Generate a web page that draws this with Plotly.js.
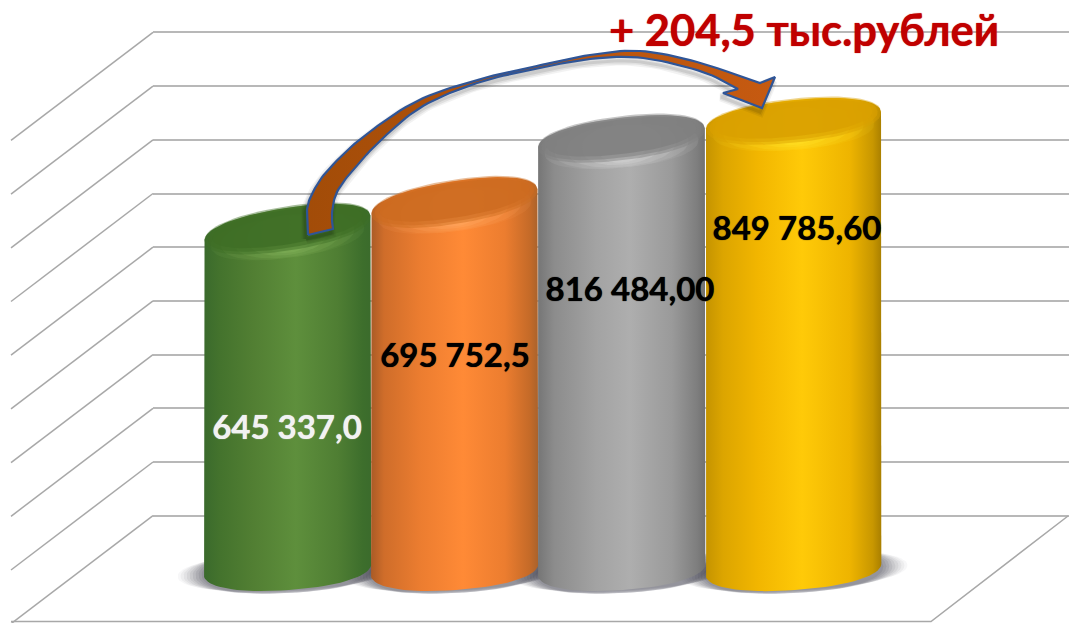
<!DOCTYPE html>
<html><head><meta charset="utf-8">
<script src="https://cdn.plot.ly/plotly-3.0.1.min.js"></script>
<style>html,body{margin:0;padding:0;background:#fff}#c{width:1069px;height:623px}</style>
</head><body><div id="c"></div>
<script>
// ---- chart data ----
const categories = [0, 1, 2, 3];
const values = [645337.0, 695752.5, 816484.0, 849785.6];
const valueLabels = ['645 337,0', '695 752,5', '816 484,00', '849 785,60'];
const labelColors = ['#f2f2f2', '#000000', '#000000', '#000000'];
const gridValues = [0, 100000, 200000, 300000, 400000, 500000, 600000, 700000, 800000, 900000];
const titleText = '+ 204,5 тыс.рублей';

// ---- styles ----
const bodyScales = [
  [[0,'#3a6a2c'],[0.1,'#44732d'],[0.3,'#527f33'],[0.55,'#5e8f3c'],[0.8,'#4f7e33'],[0.95,'#3d6e2c'],[1,'#3b6b2c']],
  [[0,'#a85a26'],[0.08,'#cf6d2a'],[0.3,'#ec7d30'],[0.55,'#ff8a36'],[0.8,'#ec7d2f'],[0.95,'#c46a28'],[1,'#a8622c']],
  [[0,'#757575'],[0.1,'#8c8c8c'],[0.35,'#a3a3a3'],[0.55,'#aeaeae'],[0.8,'#9a9a9a'],[0.95,'#7e7e7e'],[1,'#707070']],
  [[0,'#c49300'],[0.1,'#dca500'],[0.3,'#f2b600'],[0.55,'#ffca08'],[0.82,'#eeb400'],[0.95,'#c89700'],[1,'#a97f00']]
];
const capColor = ['62,110,37', '205,108,32', '128,128,128', '218,160,0'];
const rimColor = ['132,180,92', '255,170,100', '215,215,215', '255,225,40'];
const xIdx = [0, 1, 2, 3.03];
const halfW = [84, 84, 84, 88];
const capTilt = [9, 9, 7, 6];

// ---- scales (page pixels <-> axis units) ----
const W = 1069, H = 623, basePx = 569, k = 5.27e-4, x0 = 287.5, xs = 167;
const wallK = 53.7e-5, wallBase = 515.7;
const X = p => (p - x0) / xs;
const Y = p => (basePx - p) / k;
const wallPx = v => wallBase - v * wallK;

const traces = [];
const line0 = {width: 0};

// tilted super-ellipse points in pixels
const EXP = 2 / 2.2;
const spow = v => Math.sign(v) * Math.pow(Math.abs(v), EXP);
function ell(cx, cy, a, b, deg, t0, t1, n) {
  const th = deg * Math.PI / 180, out = [];
  for (let i = 0; i <= n; i++) {
    const t = (t0 + (t1 - t0) * i / n) * Math.PI / 180;
    const ex = a * spow(Math.cos(t)), ey = b * spow(Math.sin(t));
    out.push([cx + ex * Math.cos(th) - ey * Math.sin(th), cy - (ex * Math.sin(th) + ey * Math.cos(th))]);
  }
  return out;
}
function poly(pts, extra) {
  return Object.assign({
    type: 'scatter', mode: 'lines', xaxis: 'x2', yaxis: 'y2', hoverinfo: 'skip', showlegend: false,
    x: pts.map(p => X(p[0])), y: pts.map(p => Y(p[1])), line: line0
  }, extra);
}
function fillEll(cx, cy, a, b, deg, color) {
  return poly(ell(cx, cy, a, b, deg, 0, 360, 72), {fill: 'toself', fillcolor: color});
}

// perspective lines of the side wall and floor, from the same grid values
const diagX = [], diagY = [];
gridValues.forEach(v => {
  diagX.push(X(153), X(11), null);
  diagY.push(Y(wallPx(v)), Y(wallPx(v) + 108), null);
});
traces.push({type: 'scatter', mode: 'lines', xaxis: 'x2', yaxis: 'y2', hoverinfo: 'skip', showlegend: false,
  x: diagX, y: diagY, line: {color: '#a8a8a8', width: 1.5}});
traces.push(poly([[11, 621.5], [931, 621.5], [1068, 516]], {line: {color: '#a8a8a8', width: 1.5}}));

// the wall's grid needs one trace so its subplot exists
traces.push({type: 'scatter', mode: 'none', x: [0], y: [0], hoverinfo: 'skip', showlegend: false});

// value bars (covered by the shaded cylinder bodies)
traces.push({type: 'bar', xaxis: 'x2', yaxis: 'y2', x: xIdx, y: values, width: 0.8,
  marker: {color: ['#527f33', '#ec7d30', '#a3a3a3', '#f2b600']}, hoverinfo: 'skip', showlegend: false});

// floor shadows
categories.forEach(i => {
  const cx = x0 + xs * xIdx[i], a = halfW[i], b = 19;
  [[26, 0, .04], [23, 1, .05], [20, 1, .06], [17, 2, .07], [14, 2, .08], [11, 3, .09], [8, 3, .1], [5, 3, .1], [2, 3, .1]].forEach(s => {
    traces.push(fillEll(cx, basePx + 2, a + s[0], b + s[1], 3, 'rgba(50,50,65,' + s[2] + ')'));
  });
});
// cylinders
categories.forEach(i => {
  const cx = x0 + xs * xIdx[i], a = halfW[i], b = 21, tilt = capTilt[i];
  const topY = basePx - values[i] * k;
  const upper = ell(cx, topY, a, b, tilt, 0, 180, 40);
  const lower = ell(cx, basePx, a, b, 4, 180, 360, 40);
  const outline = upper.concat(lower);
  outline.push(upper[0]);
  traces.push(poly(outline, {fill: 'toself',
    fillgradient: {type: 'horizontal', colorscale: bodyScales[i], start: X(cx - a), stop: X(cx + a)}}));
  // lit front lip
  [[.92, 1.0, 9, .10], [.8, 1.0, 9, .14], [.65, 1.0, 8, .2], [.48, .95, 7, .3], [.3, .9, 6, .35]].forEach(s => {
    traces.push(fillEll(cx, topY + s[2] - 1, a * s[0], b * s[1], tilt - 1.5, 'rgba(' + rimColor[i] + ',' + s[3] + ')'));
  });
  // darker top face, soft-edged
  traces.push(fillEll(cx, topY - 0.5, a, b + 1, tilt, 'rgba(' + capColor[i] + ',.45)'));
  traces.push(fillEll(cx, topY - 1, a * .96, b * .94, tilt, 'rgba(' + capColor[i] + ',.55)'));
  traces.push(fillEll(cx, topY - 2, a * .9, b * .82, tilt, 'rgba(' + capColor[i] + ',.8)'));
});

// curved arrow
const outerPts = [[308,235],[307,210],[313,192],[328,170],[363,137],[417,101],[477,80],[530,67.5],[590,55],[640,51],[697,62],[760,83]];
const innerPts = [[738,89],[703,72],[643,58],[590,59],[530,70],[477,83],[423,106],[383,138],[353,170],[337,192],[332,213],[333,229]];
function smooth(p) {
  const out = [];
  for (let i = 0; i < p.length - 1; i++) {
    const a = p[Math.max(i - 1, 0)], b = p[i], c = p[i + 1], d = p[Math.min(i + 2, p.length - 1)];
    for (let j = 0; j < 10; j++) {
      const t = j / 10, t2 = t * t, t3 = t2 * t;
      out.push([0, 1].map(q => .5 * (2 * b[q] + (c[q] - a[q]) * t + (2 * a[q] - 5 * b[q] + 4 * c[q] - d[q]) * t2 + (3 * b[q] - a[q] - 3 * c[q] + d[q]) * t3)));
    }
  }
  out.push(p[p.length - 1]);
  return out;
}
const arrow = smooth(outerPts).concat([[775,77],[762,108],[723,93]], smooth(innerPts), [[308,235]]);
[[9, .05], [6, .07], [3, .09]].forEach(s => {
  traces.push(poly(arrow.map(p => [p[0] - 2, p[1] + 4]), {line: {color: 'rgba(0,0,0,' + s[1] + ')', width: s[0]}}));
});
traces.push(poly(arrow, {fill: 'toself',
  fillgradient: {type: 'horizontal', colorscale: [[0,'#a24c08'],[0.5,'#b5530c'],[1,'#c65a11']], start: X(305), stop: X(775)},
  line: {color: '#2f5597', width: 2.2}}));

// value labels
const labelPxX = [287, 455, 630, 797];
const labelPxY = [431, 359, 293, 232];
categories.forEach(i => {
  traces.push({type: 'scatter', mode: 'text', xaxis: 'x2', yaxis: 'y2', hoverinfo: 'skip', showlegend: false,
    x: [X(labelPxX[i])], y: [Y(labelPxY[i])], text: [valueLabels[i]], textposition: 'middle center',
    textfont: {family: 'Lato, "Noto Sans", sans-serif', size: 33, weight: 700, color: labelColors[i], shadow: '0 0 1px ' + labelColors[i]}});
});

const off = {showticklabels: false, ticks: '', showline: false, zeroline: false, showgrid: false, fixedrange: true};
const layout = {
  width: W, height: H, margin: {l: 0, r: 0, t: 0, b: 0},
  paper_bgcolor: '#ffffff', plot_bgcolor: 'rgba(0,0,0,0)', showlegend: false, barmode: 'overlay',
  title: {text: titleText, x: 804 / W, y: 1 - 31 / H, xanchor: 'center', yanchor: 'middle', xref: 'paper', yref: 'paper',
    font: {family: 'Lato, "Noto Sans", sans-serif', size: 43.5, weight: 700, color: '#c00000', shadow: '0 0 1px #c00000'}},
  xaxis: Object.assign({}, off, {domain: [153 / W, 1], range: [0, 1], anchor: 'y'}),
  yaxis: Object.assign({}, off, {domain: [(H - 520) / H, 1], range: [-(520 - wallBase) / wallK, wallBase / wallK], anchor: 'x',
    showgrid: true, gridcolor: '#b8b8b8', gridwidth: 2, tickmode: 'array', tickvals: gridValues}),
  xaxis2: Object.assign({}, off, {domain: [0, 1], range: [X(0), X(W)], anchor: 'y2'}),
  yaxis2: Object.assign({}, off, {domain: [0, 1], range: [Y(H), Y(0)], anchor: 'x2'})
};
Plotly.newPlot('c', traces, layout, {displayModeBar: false, staticPlot: true});
</script></body></html>
